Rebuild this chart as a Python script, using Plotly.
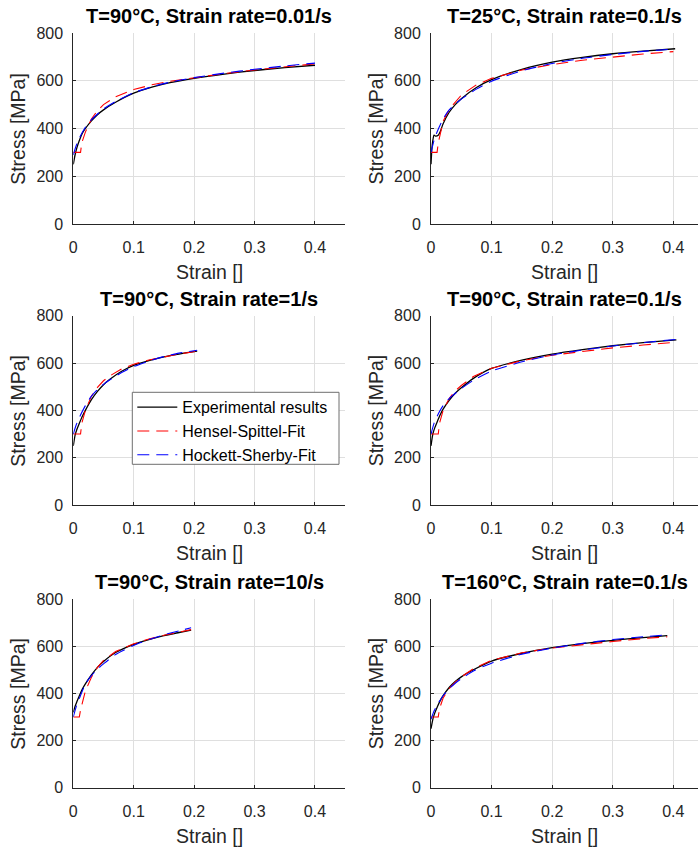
import plotly.graph_objects as go

# ---------------- data ----------------
TITLES = [
    "T=90°C, Strain rate=0.01/s",
    "T=25°C, Strain rate=0.1/s",
    "T=90°C, Strain rate=1/s",
    "T=90°C, Strain rate=0.1/s",
    "T=90°C, Strain rate=10/s",
    "T=160°C, Strain rate=0.1/s",
]
SERIES_NAMES = ["Experimental results", "Hensel-Spittel-Fit", "Hockett-Sherby-Fit"]
X_TICKS = [0, 0.1, 0.2, 0.3, 0.4]
Y_TICKS = [0, 200, 400, 600, 800]

# Panel 1: T=90°C, 0.01/s
EXP_STRAIN_1 = [0, 0.003, 0.006, 0.01, 0.015, 0.02, 0.03, 0.04, 0.05, 0.07, 0.1, 0.13, 0.16, 0.2, 0.25, 0.3, 0.35, 0.4]
EXP_STRESS_1 = [250, 290, 320, 350, 380, 400, 432, 458, 478, 510, 548, 573, 592, 610, 628, 643, 655, 665]
HS_STRAIN_1 = [0, 0.012, 0.014, 0.02, 0.03, 0.04, 0.05, 0.07, 0.1, 0.13, 0.16, 0.2, 0.25, 0.3, 0.35, 0.4]
HS_STRESS_1 = [300, 300, 340, 385, 440, 475, 500, 533, 563, 583, 598, 613, 630, 645, 658, 671]
HOCK_STRAIN_1 = [0, 0.005, 0.01, 0.02, 0.03, 0.05, 0.07, 0.1, 0.13, 0.16, 0.2, 0.25, 0.3, 0.35, 0.4]
HOCK_STRESS_1 = [290, 330, 360, 405, 437, 482, 513, 550, 575, 594, 613, 632, 648, 662, 674]

# Panel 2: T=25°C, 0.1/s
EXP_STRAIN_2 = [0, 0.002, 0.005, 0.008, 0.012, 0.015, 0.02, 0.03, 0.04, 0.05, 0.075, 0.1, 0.15, 0.2, 0.25, 0.3, 0.35, 0.403]
EXP_STRESS_2 = [250, 330, 372, 368, 372, 385, 420, 468, 500, 525, 572, 605, 648, 678, 698, 713, 724, 734]
HS_STRAIN_2 = [0, 0.01, 0.012, 0.02, 0.03, 0.05, 0.075, 0.1, 0.15, 0.2, 0.25, 0.3, 0.35, 0.4]
HS_STRESS_2 = [300, 300, 340, 430, 480, 540, 583, 610, 645, 668, 686, 700, 712, 722]
HOCK_STRAIN_2 = [0, 0.005, 0.01, 0.02, 0.03, 0.05, 0.075, 0.1, 0.15, 0.2, 0.25, 0.3, 0.35, 0.4]
HOCK_STRESS_2 = [300, 350, 385, 440, 478, 523, 565, 598, 642, 672, 694, 710, 723, 733]

# Panel 3: T=90°C, 1/s
EXP_STRAIN_3 = [0, 0.003, 0.006, 0.01, 0.015, 0.02, 0.03, 0.04, 0.05, 0.06, 0.08, 0.1, 0.125, 0.15, 0.175, 0.205]
EXP_STRESS_3 = [250, 295, 320, 345, 375, 400, 445, 480, 508, 530, 565, 590, 610, 626, 638, 650]
HS_STRAIN_3 = [0, 0.012, 0.014, 0.02, 0.03, 0.04, 0.05, 0.06, 0.08, 0.1, 0.125, 0.15, 0.175, 0.205]
HS_STRESS_3 = [300, 300, 345, 400, 460, 497, 525, 545, 575, 595, 613, 627, 638, 650]
HOCK_STRAIN_3 = [0, 0.005, 0.01, 0.02, 0.03, 0.04, 0.05, 0.06, 0.08, 0.1, 0.125, 0.15, 0.175, 0.205]
HOCK_STRESS_3 = [300, 340, 370, 420, 460, 488, 510, 528, 560, 585, 608, 627, 642, 654]

# Panel 4: T=90°C, 0.1/s
EXP_STRAIN_4 = [0, 0.003, 0.006, 0.01, 0.015, 0.02, 0.03, 0.04, 0.05, 0.07, 0.1, 0.15, 0.2, 0.25, 0.3, 0.35, 0.405]
EXP_STRESS_4 = [250, 300, 325, 350, 380, 405, 442, 472, 495, 535, 577, 612, 638, 657, 673, 686, 698]
HS_STRAIN_4 = [0, 0.012, 0.014, 0.02, 0.03, 0.04, 0.05, 0.07, 0.1, 0.15, 0.2, 0.25, 0.3, 0.35, 0.405]
HS_STRESS_4 = [300, 300, 345, 400, 450, 482, 505, 543, 578, 610, 633, 650, 664, 676, 688]
HOCK_STRAIN_4 = [0, 0.005, 0.01, 0.02, 0.03, 0.05, 0.07, 0.1, 0.15, 0.2, 0.25, 0.3, 0.35, 0.405]
HOCK_STRESS_4 = [300, 345, 375, 420, 450, 492, 527, 566, 605, 634, 655, 672, 686, 700]

# Panel 5: T=90°C, 10/s
EXP_STRAIN_5 = [0, 0.003, 0.006, 0.01, 0.015, 0.02, 0.03, 0.04, 0.05, 0.07, 0.1, 0.125, 0.15, 0.175, 0.195]
EXP_STRESS_5 = [320, 345, 365, 390, 418, 440, 478, 510, 535, 573, 608, 628, 645, 658, 668]
HS_STRAIN_5 = [0, 0.01, 0.012, 0.02, 0.03, 0.04, 0.05, 0.07, 0.1, 0.125, 0.15, 0.175, 0.195]
HS_STRESS_5 = [300, 300, 330, 410, 468, 510, 540, 577, 610, 630, 646, 660, 670]
HOCK_STRAIN_5 = [0, 0.005, 0.01, 0.02, 0.03, 0.04, 0.05, 0.07, 0.1, 0.125, 0.15, 0.175, 0.195]
HOCK_STRESS_5 = [300, 345, 378, 440, 475, 503, 525, 565, 603, 628, 648, 665, 678]

# Panel 6: T=160°C, 0.1/s
EXP_STRAIN_6 = [0, 0.003, 0.006, 0.01, 0.015, 0.02, 0.03, 0.04, 0.05, 0.07, 0.1, 0.15, 0.2, 0.25, 0.3, 0.35, 0.39]
EXP_STRESS_6 = [250, 290, 315, 340, 368, 390, 425, 450, 470, 500, 537, 570, 594, 611, 625, 636, 645]
HS_STRAIN_6 = [0, 0.012, 0.014, 0.02, 0.03, 0.04, 0.05, 0.07, 0.1, 0.15, 0.2, 0.25, 0.3, 0.35, 0.39]
HS_STRESS_6 = [300, 300, 335, 380, 420, 448, 470, 505, 540, 572, 592, 607, 620, 632, 640]
HOCK_STRAIN_6 = [0, 0.005, 0.01, 0.02, 0.03, 0.04, 0.05, 0.07, 0.1, 0.15, 0.2, 0.25, 0.3, 0.35, 0.39]
HOCK_STRESS_6 = [290, 325, 350, 390, 420, 443, 462, 495, 528, 566, 592, 612, 628, 640, 648]

PANELS = [
    (EXP_STRAIN_1, EXP_STRESS_1, HS_STRAIN_1, HS_STRESS_1, HOCK_STRAIN_1, HOCK_STRESS_1),
    (EXP_STRAIN_2, EXP_STRESS_2, HS_STRAIN_2, HS_STRESS_2, HOCK_STRAIN_2, HOCK_STRESS_2),
    (EXP_STRAIN_3, EXP_STRESS_3, HS_STRAIN_3, HS_STRESS_3, HOCK_STRAIN_3, HOCK_STRESS_3),
    (EXP_STRAIN_4, EXP_STRESS_4, HS_STRAIN_4, HS_STRESS_4, HOCK_STRAIN_4, HOCK_STRESS_4),
    (EXP_STRAIN_5, EXP_STRESS_5, HS_STRAIN_5, HS_STRESS_5, HOCK_STRAIN_5, HOCK_STRESS_5),
    (EXP_STRAIN_6, EXP_STRESS_6, HS_STRAIN_6, HS_STRESS_6, HOCK_STRAIN_6, HOCK_STRESS_6),
]
LEGEND_PANEL = 2  # legend drawn inside panel 3 (index 2)

# ---------------- layout geometry (page pixels) ----------------
W, H = 698, 848
COL_X = [(73.3, 345.2), (431.0, 698.0)]
COL_XMAX = [0.45, 0.4407]
ROW_Y = [(33.0, 224.0), (315.7, 505.0), (599.0, 787.7)]
LEGEND_BOX = (132.3, 392.3, 339.0, 464.3)  # left, top, right, bottom


def fx(p):
    return p / W


def fy(p):
    return 1 - p / H


FONT = "Liberation Sans, Arial, Helvetica, sans-serif"
TXT = "#262626"
GRID = "#dfdfdf"

fig = go.Figure()
layout_axes = {}
annotations = []

for i, (es, ev, hs, hv, ks, kv) in enumerate(PANELS):
    r, c = divmod(i, 2)
    n = i + 1
    xa = "x" if n == 1 else f"x{n}"
    ya = "y" if n == 1 else f"y{n}"
    show = (i == LEGEND_PANEL)
    fig.add_trace(go.Scatter(x=es, y=ev, mode="lines", name=SERIES_NAMES[0],
                             line=dict(color="black", width=1.3, shape="spline", smoothing=0.6),
                             xaxis=xa, yaxis=ya, showlegend=show, legendrank=1))
    fig.add_trace(go.Scatter(x=hs, y=hv, mode="lines", name=SERIES_NAMES[1],
                             line=dict(color="#ff0000", width=1.1, dash="12px,7px"),
                             xaxis=xa, yaxis=ya, showlegend=show, legendrank=2))
    fig.add_trace(go.Scatter(x=ks, y=kv, mode="lines", name=SERIES_NAMES[2],
                             line=dict(color="#0000ff", width=1.1, dash="12px,7px", shape="spline", smoothing=0.6),
                             xaxis=xa, yaxis=ya, showlegend=show, legendrank=3))

    x0, x1 = COL_X[c]
    yt, yb = ROW_Y[r]
    xdom = [fx(x0), min(1.0, fx(x1))]
    ydom = [fy(yb), fy(yt)]
    axis_common = dict(
        automargin=False,
        showline=True, linecolor=TXT, linewidth=1, mirror=False,
        showgrid=True, gridcolor=GRID, gridwidth=1, zeroline=False,
        ticks="inside", ticklen=3, tickcolor=TXT, tickwidth=1,
        tickfont=dict(family=FONT, size=16, color=TXT),
        fixedrange=True,
    )
    layout_axes["xaxis" if n == 1 else f"xaxis{n}"] = dict(
        axis_common, domain=xdom, anchor=ya, range=[0, COL_XMAX[c]],
        tickvals=X_TICKS, ticktext=[f"{v:g}" for v in X_TICKS], ticklabelstandoff=9,
    )
    layout_axes["yaxis" if n == 1 else f"yaxis{n}"] = dict(
        axis_common, domain=ydom, anchor=xa, range=[0, 800],
        tickvals=Y_TICKS, ticktext=[str(v) for v in Y_TICKS], ticklabelstandoff=6,
    )

    xc = (xdom[0] + xdom[1]) / 2
    annotations.append(dict(text=f"<b>{TITLES[i]}</b>", xref="paper", yref="paper",
                            x=xc, y=fy(yt - 17), xanchor="center", yanchor="middle",
                            showarrow=False, font=dict(family=FONT, size=20, color="black")))
    annotations.append(dict(text="Strain []", xref="paper", yref="paper",
                            x=xc, y=fy(yb + 48), xanchor="center", yanchor="middle",
                            showarrow=False, font=dict(family=FONT, size=19.5, color=TXT)))
    annotations.append(dict(text="Stress [MPa]", xref="paper", yref="paper",
                            x=fx(x0 - 55), y=(ydom[0] + ydom[1]) / 2, xanchor="center", yanchor="middle",
                            textangle=-90, showarrow=False, font=dict(family=FONT, size=19.5, color=TXT)))

lb_l, lb_t, lb_r, lb_b = LEGEND_BOX
fig.update_layout(
    width=W, height=H,
    margin=dict(l=0, r=0, t=0, b=0, autoexpand=False),
    paper_bgcolor="white", plot_bgcolor="white",
    font=dict(family=FONT, color=TXT),
    annotations=annotations,
    shapes=[dict(type="rect", xref="paper", yref="paper",
                 x0=fx(lb_l), x1=fx(lb_r), y0=fy(lb_b), y1=fy(lb_t),
                 fillcolor="white", line=dict(color="#6e6e6e", width=1), layer="above")],
    showlegend=True,
    hovermode=False,
    legend=dict(x=fx(lb_l), y=fy(lb_t - 2), xanchor="left", yanchor="top",
                bgcolor="rgba(0,0,0,0)", borderwidth=0,
                font=dict(family=FONT, size=16, color="black"),
                tracegroupgap=0, itemwidth=40),
    **layout_axes,
)

# remove the browser's default 8px page margin so the figure fills the window exactly
fig.write_html("out.html", config={"displayModeBar": False, "staticPlot": False},
               post_script="document.body.style.margin='0px';")
